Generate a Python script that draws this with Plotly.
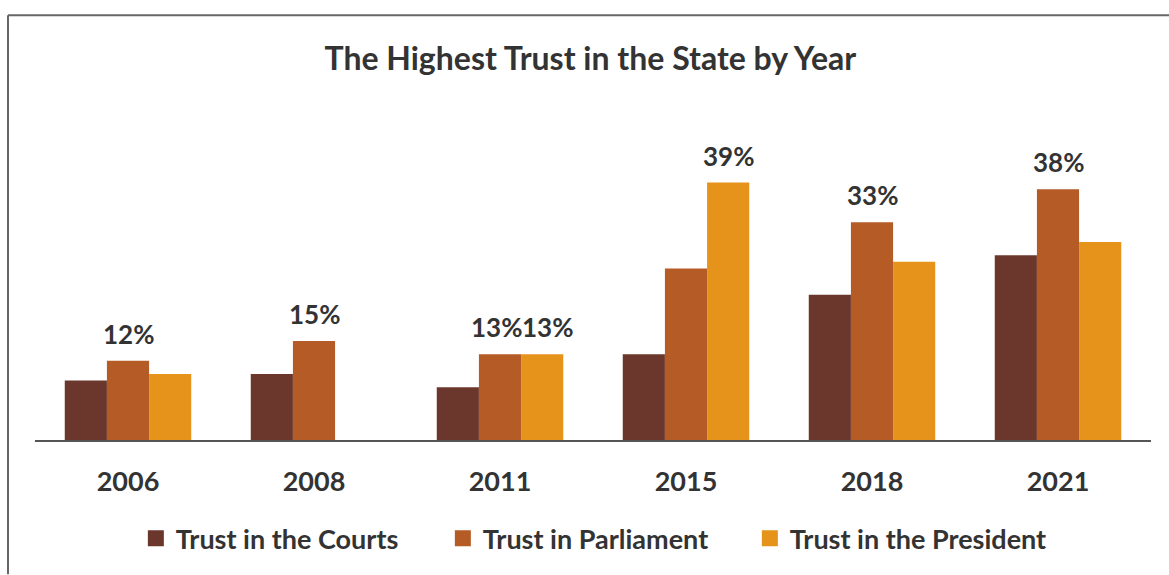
import plotly.graph_objects as go

years = ["2006", "2008", "2011", "2015", "2018", "2021"]
courts = [9, 10, 8, 13, 22, 28]
parliament = [12, 15, 13, 26, 33, 38]
president = [10, None, 13, 39, 27, 30]

series = [
    ("Trust in the Courts", courts, "#6b372c"),
    ("Trust in Parliament", parliament, "#b55b26"),
    ("Trust in the President", president, "#e6931c"),
]

FONT = "Lato"
TXT = "#333333"
fig = go.Figure()
for name, vals, col in series:
    fig.add_trace(go.Bar(x=years, y=vals, name=name, showlegend=False,
                         marker=dict(color=col, line=dict(width=0))))
# legend entries with larger square swatches
for name, vals, col in series:
    fig.add_trace(go.Scatter(x=[None], y=[None], mode="markers", name=name,
                             marker=dict(symbol="square", size=18, color=col)))

# label only the highest value(s) of each year; tied labels are nudged apart
annos = []
for i, yr in enumerate(years):
    vals = [s[1][i] for s in series]
    mx = max(v for v in vals if v is not None)
    winners = [j for j, v in enumerate(vals) if v == mx]
    for k, j in enumerate(winners):
        nudge = 0 if len(winners) == 1 else (-4 if k == 0 else 5)
        annos.append(dict(x=i, y=vals[j], xref="x", yref="y", text=f"<b>{vals[j]}%</b>",
                          showarrow=False, xshift=(j - 1) * 42 + nudge, yshift=9,
                          yanchor="bottom", font=dict(family=FONT, size=26, color=TXT)))

fig.update_layout(
    width=1169, height=575,
    margin=dict(l=35, r=18, t=110, b=131),
    paper_bgcolor="white", plot_bgcolor="white",
    barmode="group", bargap=0.32, bargroupgap=0,
    title=dict(text="<b>The Highest Trust in the State by Year</b>", x=0.505, xanchor="center",
               y=1 - 59 / 575, yanchor="middle",
               font=dict(family=FONT, size=32, color=TXT)),
    xaxis=dict(type="category", range=[-0.5, len(years) - 0.5], showline=True,
               linecolor="#555555", linewidth=2, showgrid=False,
               ticks="", ticklabelstandoff=17,
               tickfont=dict(family=FONT, size=27, color=TXT, weight="bold")),
    yaxis=dict(range=[0, 50], visible=False, showgrid=False, zeroline=False),
    legend=dict(orientation="h", x=0.503, xanchor="center", y=(444 - 544) / 334, yanchor="middle",
                font=dict(family=FONT, size=27, color=TXT, weight="bold"),
                itemwidth=30, itemclick=False, tracegroupgap=0, entrywidth=262),
    annotations=annos,
    shapes=[
        dict(type="line", xref="paper", yref="paper", x0=(8 - 35) / 1116, x1=(1169 - 35) / 1116,
             y0=(444 - 14) / 334, y1=(444 - 14) / 334, line=dict(color="#666666", width=2)),
        dict(type="line", xref="paper", yref="paper", x0=(8 - 35) / 1116, x1=(8 - 35) / 1116,
             y0=(444 - 14) / 334, y1=(444 - 580) / 334, line=dict(color="#666666", width=2)),
    ],
)

fig.write_html("out.html")
